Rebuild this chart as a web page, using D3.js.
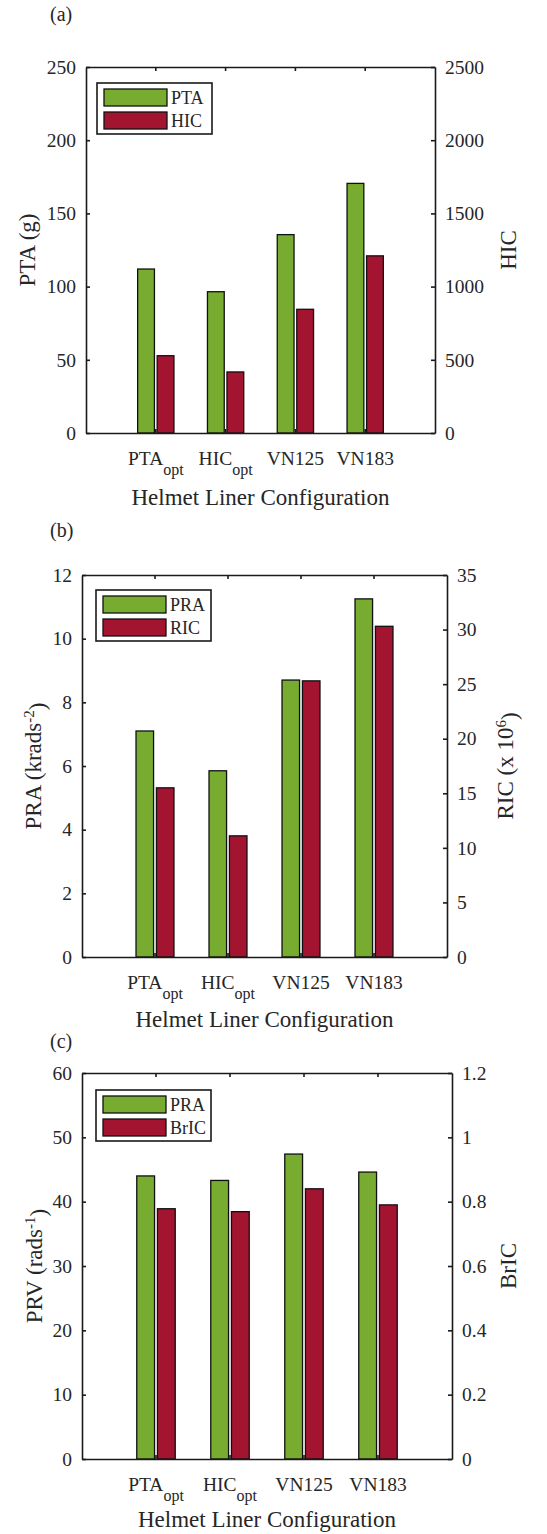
<!DOCTYPE html>
<html>
<head>
<meta charset="utf-8">
<script src="https://cdn.jsdelivr.net/npm/d3@7"></script>
<style>
  body { margin: 0; background: #fff; }
  svg text, svg tspan { font-family: "Liberation Serif", "DejaVu Serif", serif !important; fill: #262626; }
</style>
</head>
<body>
<div id="chart"></div>
<script>
// Data
var configNames = ["PTA", "HIC", "VN125", "VN183"]
var configSubs = ["opt", "opt", "", ""]

var ptaValues = [112, 96.5, 135.5, 170.5]
var hicValues = [528, 417, 845, 1210]
var praValues = [7.1, 5.85, 8.7, 11.25]
var ricValues = [15.5, 11.1, 25.3, 30.3]
var prvValues = [44, 43.3, 47.4, 44.6]
var bricValues = [0.778, 0.769, 0.84, 0.79]

var ticksA = [0, 50, 100, 150, 200, 250]
var ticksHIC = [0, 500, 1000, 1500, 2000, 2500]
var ticksB = [0, 2, 4, 6, 8, 10, 12]
var ticksRIC = [0, 5, 10, 15, 20, 25, 30, 35]
var ticksC = [0, 10, 20, 30, 40, 50, 60]
var ticksBrIC = [0, 0.2, 0.4, 0.6, 0.8, 1, 1.2]

var green = "#77AC30", red = "#A2142F"
var serif = '"Liberation Serif", "DejaVu Serif", serif'

var svg = d3.select("#chart").append("svg")
  .attr("width", 547)
  .attr("height", 1534)
  .attr("font-family", serif)

// panel layouts
var panels = [
  { tag: "(a)", tagY: 21, top: 67, bottom: 433, left: 86, right: 435,
    left_vals: ptaValues, right_vals: hicValues, lticks: ticksA, rticks: ticksHIC,
    names: ["PTA", "HIC"], ylab: [["PTA (g)"]], rlab: [["HIC"]],
    ylabX: 35, rlabX: 516, legDx: 11, legDy: 16, titleY: 505 },
  { tag: "(b)", tagY: 537, top: 575, bottom: 957, left: 82, right: 447,
    left_vals: praValues, right_vals: ricValues, lticks: ticksB, rticks: ticksRIC,
    names: ["PRA", "RIC"], ylab: [["PRA (krads"], ["-2", "sup"], [")"]], rlab: [["RIC (x 10"], ["6", "sup"], [")"]],
    ylabX: 41, rlabX: 513, legDx: 14, legDy: 15, titleY: 1027 },
  { tag: "(c)", tagY: 1048, top: 1073, bottom: 1459, left: 82, right: 452,
    left_vals: prvValues, right_vals: bricValues, lticks: ticksC, rticks: ticksBrIC,
    names: ["PRA", "BrIC"], ylab: [["PRV (rads"], ["-1", "sup"], [")"]], rlab: [["BrIC"]],
    ylabX: 42, rlabX: 516, legDx: 14, legDy: 17, titleY: 1527 }
]

panels.forEach(drawPanel)

function addLabel(textSel, parts) {
  parts.forEach(function(p, k) {
    var t = textSel.append("tspan").text(p[0])
    if (p[1] == "sup") t.attr("dy", "-0.45em").style("font-size", "15px")
    else if (k > 0) t.attr("dy", "0.45em")
  })
}

function drawPanel(p) {
  var g = svg.append("g")

  var x = d3.scaleBand()
    .domain(d3.range(configNames.length))
    .range([p.left, p.right])
    .paddingInner(0)
    .paddingOuter(0.5)
  var step = x.step()
  var inner = d3.scaleBand()
    .domain([0, 1])
    .range([-0.26 * step, 0.26 * step])
    .paddingInner(0.14)

  var yL = d3.scaleLinear().domain([0, d3.max(p.lticks)]).range([p.bottom, p.top])
  var yR = d3.scaleLinear().domain([0, d3.max(p.rticks)]).range([p.bottom, p.top])

  function cx(i) { return x(i) + x.bandwidth() / 2 }

  // bars
  g.selectAll("rect.left-bar")
    .data(p.left_vals)
    .enter().append("rect")
    .attr("class", "left-bar")
    .attr("x", function(d, i) { return cx(i) + inner(0) })
    .attr("width", inner.bandwidth())
    .attr("y", function(d) { return yL(d) })
    .attr("height", function(d) { return p.bottom - yL(d) })
    .attr("fill", green)
    .attr("stroke", "#111")
    .attr("stroke-width", 1.3)

  g.selectAll("rect.right-bar")
    .data(p.right_vals)
    .enter().append("rect")
    .attr("class", "right-bar")
    .attr("x", function(d, i) { return cx(i) + inner(1) })
    .attr("width", inner.bandwidth())
    .attr("y", function(d) { return yR(d) })
    .attr("height", function(d) { return p.bottom - yR(d) })
    .attr("fill", red)
    .attr("stroke", "#111")
    .attr("stroke-width", 1.3)

  // axes
  var fmt = function(d) { return String(d) }

  var leftAxis = g.append("g")
    .attr("transform", "translate(" + p.left + ",0)")
    .call(d3.axisLeft(yL).tickValues(p.lticks).tickFormat(fmt).tickSize(-4).tickSizeOuter(0).tickPadding(10))
  var rightAxis = g.append("g")
    .attr("transform", "translate(" + p.right + ",0)")
    .call(d3.axisRight(yR).tickValues(p.rticks).tickFormat(fmt).tickSize(-4).tickSizeOuter(0).tickPadding(10))
  var topAxis = g.append("g")
    .attr("transform", "translate(0," + p.top + ")")
    .call(d3.axisTop(x).tickSize(-4).tickSizeOuter(0).tickFormat(""))
  var bottomAxis = g.append("g")
    .attr("transform", "translate(0," + p.bottom + ")")
    .call(d3.axisBottom(x).tickSize(-4).tickSizeOuter(0).tickFormat(""))

  ;[leftAxis, rightAxis, topAxis, bottomAxis].forEach(function(a) {
    a.attr("font-family", serif)
    a.selectAll("path, line").attr("stroke", "#1a1a1a").attr("stroke-width", 1.6)
    a.selectAll("text").style("font-size", "19.5px").attr("fill", "#262626")
  })

  bottomAxis.selectAll(".tick text").each(function(d) {
    var t = d3.select(this).text("").attr("y", 32).attr("dy", null)
    t.append("tspan").text(configNames[d])
    if (configSubs[d]) {
      t.append("tspan").text(configSubs[d]).attr("dy", 10).style("font-size", "16px")
    }
  })

  // x title
  g.append("text")
    .attr("x", (p.left + p.right) / 2)
    .attr("y", p.titleY)
    .attr("text-anchor", "middle")
    .style("font-size", "23px")
    .text("Helmet Liner Configuration")

  // y titles
  var cy = (p.top + p.bottom) / 2
  var yl = g.append("text")
    .attr("transform", "translate(" + p.ylabX + "," + cy + ") rotate(-90)")
    .attr("text-anchor", "middle")
    .style("font-size", "23px")
  addLabel(yl, p.ylab)
  var yr = g.append("text")
    .attr("transform", "translate(" + p.rlabX + "," + cy + ") rotate(-90)")
    .attr("text-anchor", "middle")
    .style("font-size", "23px")
  addLabel(yr, p.rlab)

  // panel tag
  g.append("text")
    .attr("x", 50)
    .attr("y", p.tagY)
    .style("font-size", "20px")
    .text(p.tag)

  // legend
  var lx = p.left + p.legDx, ly = p.top + p.legDy
  var leg = g.append("g").attr("transform", "translate(" + lx + "," + ly + ")")
  leg.append("rect")
    .attr("width", 115).attr("height", 51)
    .attr("fill", "#fff").attr("stroke", "#1a1a1a").attr("stroke-width", 1.6)
  var items = leg.selectAll("g.item")
    .data(p.names)
    .enter().append("g")
    .attr("class", "item")
    .attr("transform", function(d, i) { return "translate(7," + (6 + i * 23) + ")" })
  items.append("rect")
    .attr("width", 63).attr("height", 17)
    .attr("fill", function(d, i) { return i == 0 ? green : red })
    .attr("stroke", "#111").attr("stroke-width", 1.3)
  items.append("text")
    .attr("x", 67).attr("y", 15)
    .style("font-size", "18px")
    .text(function(d) { return d })
}
</script>
</body>
</html>
